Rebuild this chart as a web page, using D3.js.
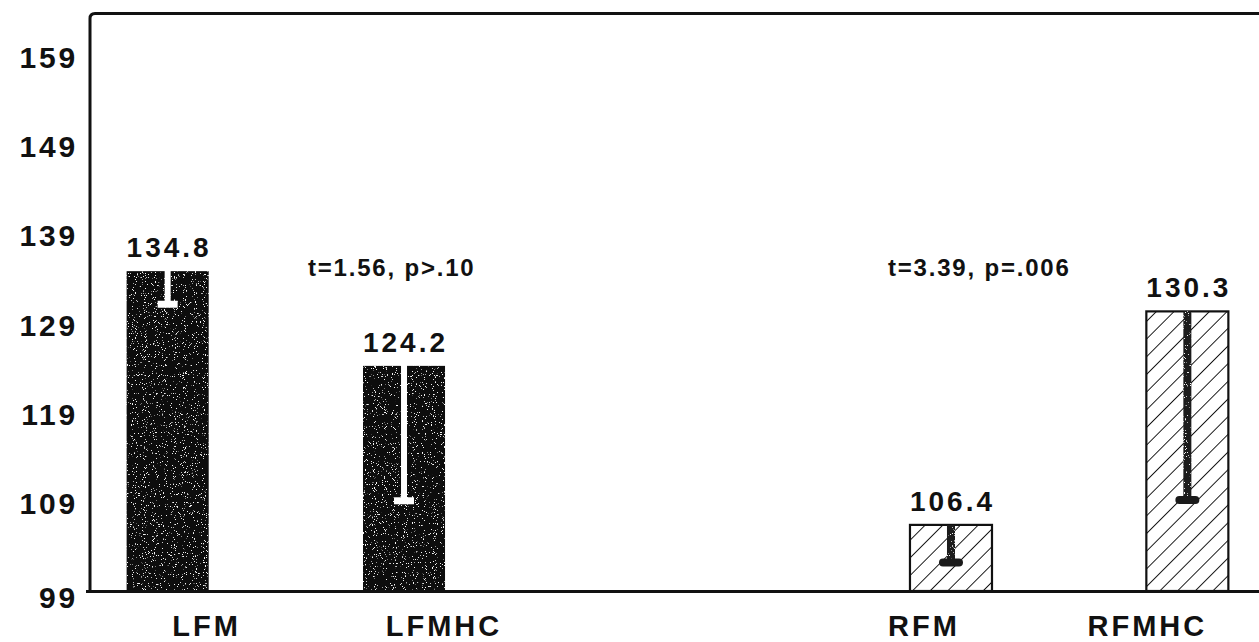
<!DOCTYPE html>
<html>
<head>
<meta charset="utf-8">
<script src="https://cdn.jsdelivr.net/npm/d3@7"></script>
<style>
  html, body { margin: 0; padding: 0; background: #fff; }
  svg { display: block; }
  text { font-family: "Liberation Sans", Arial, Helvetica, sans-serif; font-weight: bold; fill: #111; }
</style>
</head>
<body>
<svg id="chart" width="1259" height="642"></svg>
<script>
// Mean values per condition, with the downward error length of each bar
const categories = ["LFM", "LFMHC", "RFM", "RFMHC"];
const sides      = ["L", "L", "R", "R"];
const means      = [134.8, 124.2, 106.4, 130.3];
const errors     = [3.7, 15.1, 4.2, 21.1];
const fillKinds  = ["solid", "solid", "hatch", "hatch"];
const yTicks     = [99, 109, 119, 129, 139, 149, 159];
const testSides  = ["L", "R"];
const testLabels = ["t=1.56, p>.10", "t=3.39, p=.006"];

const rows = categories.map((c, i) => ({
  name: c, side: sides[i], mean: means[i], err: errors[i], kind: fillKinds[i],
  slot: sides.slice(0, i).filter(s => s === sides[i]).length
}));

// ---- layout ----
const W = 1259, H = 642;
const frameLeft = 90, frameTop = 13.5, frameRight = W;
const labelNudge = [39, 40, -27, -40];          // category label offsets from bar centre
const testOffset = { L: -55, R: -22 };          // test text start relative to a bar of its pair

const svg = d3.select("#chart");
const defs = svg.append("defs");

// speckled black fill used by the solid bars
const grain = defs.append("filter").attr("id", "grain")
  .attr("x", 0).attr("y", 0).attr("width", "100%").attr("height", "100%");
grain.append("feTurbulence").attr("type", "fractalNoise")
  .attr("baseFrequency", 0.9).attr("numOctaves", 2).attr("seed", 7).attr("result", "noise");
grain.append("feColorMatrix").attr("in", "noise").attr("type", "matrix")
  .attr("values", "0 0 0 0 0.9  0 0 0 0 0.9  0 0 0 0 0.9  18 0 0 0 -11.9")
  .attr("result", "dots");
grain.append("feComposite").attr("in", "dots").attr("in2", "SourceGraphic")
  .attr("operator", "in").attr("result", "clipped");
const merge = grain.append("feMerge");
merge.append("feMergeNode").attr("in", "SourceGraphic");
merge.append("feMergeNode").attr("in", "clipped");

// diagonal hatching for the right-side bars
const hatch = defs.append("pattern").attr("id", "hatch")
  .attr("patternUnits", "userSpaceOnUse").attr("width", 12.5).attr("height", 12.5)
  .attr("patternTransform", "rotate(45)");
hatch.append("rect").attr("width", 12.5).attr("height", 12.5).attr("fill", "#fff");
hatch.append("line").attr("x1", 0).attr("y1", 0).attr("x2", 0).attr("y2", 12.5)
  .attr("stroke", "#111").attr("stroke-width", 1.9);

// ---- scales ----
const y = d3.scaleLinear().domain([99, 159]).range([591, 55]);

const xSide = d3.scaleBand().domain(["L", "R"])
  .range([frameLeft, frameLeft + 1175]).paddingInner(0.5).paddingOuter(0);
const xSlot = d3.scaleBand().domain([0, 1])
  .range([0, xSide.bandwidth()]).paddingInner(0.653).paddingOuter(0.155);

const barX = d => xSide(d.side) + xSlot(d.slot);
const barCx = d => barX(d) + xSlot.bandwidth() / 2;
const base = y(99);

// ---- frame ----
svg.append("path")
  .attr("d", `M${frameLeft},${base} L${frameLeft},${frameTop + 5} Q${frameLeft},${frameTop} ${frameLeft + 5},${frameTop} L${frameRight},${frameTop}`)
  .attr("fill", "none").attr("stroke", "#111").attr("stroke-width", 3);

// ---- y axis labels ----
const yAxis = d3.axisLeft(y).tickValues(yTicks).tickSize(0).tickPadding(12).tickFormat(d3.format("d"));
const gy = svg.append("g").attr("transform", `translate(${frameLeft},0)`).call(yAxis);
gy.select(".domain").remove();
gy.selectAll("text")
  .attr("font-size", 30).attr("letter-spacing", 2.8)
  .attr("font-family", null).attr("fill", "#111")
  .attr("dy", d => d === 99 ? "0.55em" : "0.4em");

// ---- bars ----
const bars = svg.append("g").selectAll("g").data(rows).join("g");

bars.append("rect")
  .attr("x", barX).attr("width", xSlot.bandwidth())
  .attr("y", d => y(d.mean)).attr("height", d => base - y(d.mean))
  .attr("fill", d => d.kind === "solid" ? "#080808" : "url(#hatch)")
  .attr("stroke", "#111").attr("stroke-width", d => d.kind === "solid" ? 0 : 2.2)
  .attr("filter", d => d.kind === "solid" ? "url(#grain)" : null);

// error bars hang down from each bar top: white inside solid bars, dark inside hatched ones
bars.each(function (d) {
  const g = d3.select(this);
  const cx = barCx(d);
  const top = y(d.mean), end = y(d.mean - d.err);
  if (d.kind === "solid") {
    g.append("rect").attr("x", cx - 3).attr("width", 6)
      .attr("y", top - 1).attr("height", end - top + 1).attr("fill", "#fff");
    g.append("rect").attr("x", cx - 10).attr("width", 20)
      .attr("y", end - 3.5).attr("height", 7).attr("fill", "#fff");
  } else {
    g.append("rect").attr("x", cx - 4).attr("width", 8)
      .attr("y", top).attr("height", end - top).attr("fill", "#1a1a1a")
      .attr("filter", "url(#grain)");
    g.append("rect").attr("x", cx - 12).attr("width", 24)
      .attr("y", end - 4).attr("height", 8).attr("rx", 4).attr("fill", "#1a1a1a");
  }
});

// value labels above the bars
bars.append("text")
  .attr("x", d => barCx(d) + 1.5).attr("y", d => y(d.mean) - 14)
  .attr("text-anchor", "middle").attr("font-size", 28).attr("letter-spacing", 3)
  .text(d => d.mean.toFixed(1));

// ---- baseline ----
svg.append("line")
  .attr("x1", frameLeft - 4).attr("x2", frameRight)
  .attr("y1", base + 0.5).attr("y2", base + 0.5)
  .attr("stroke", "#111").attr("stroke-width", 3);

// ---- category labels ----
svg.append("g").selectAll("text").data(rows).join("text")
  .attr("x", (d, i) => barCx(d) + labelNudge[i])
  .attr("y", 636)
  .attr("text-anchor", "middle").attr("font-size", 29).attr("letter-spacing", 3)
  .text(d => d.name);

// ---- paired t-test results ----
svg.append("g").selectAll("text").data(testSides).join("text")
  .attr("x", s => {
    const pair = rows.filter(r => r.side === s);
    return barX(pair[s === "L" ? 1 : 0]) + testOffset[s];
  })
  .attr("y", 276)
  .attr("font-size", 24).attr("letter-spacing", 1.8)
  .text((s, i) => testLabels[i]);
</script>
</body>
</html>
